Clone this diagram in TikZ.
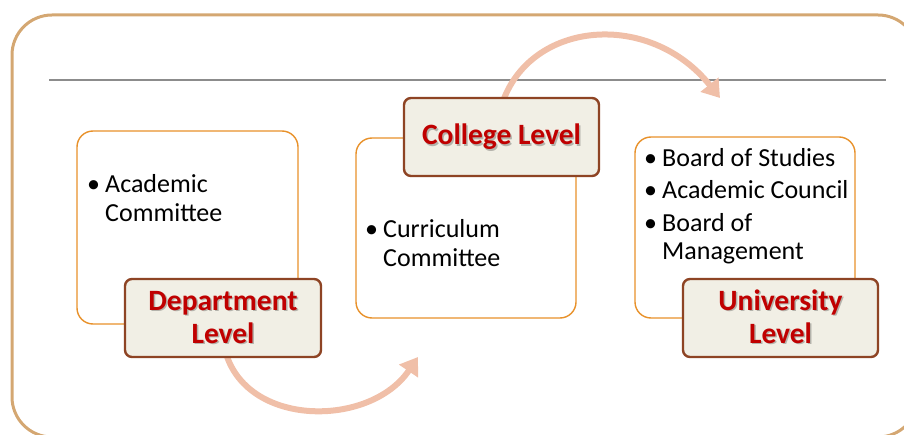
\documentclass[tikz,border=0pt]{standalone}
\usepackage{fontspec}
\setmainfont{Carlito}
\usetikzlibrary{arrows.meta}
\definecolor{frametan}{HTML}{D4A772}
\definecolor{boxorange}{HTML}{E8912A}
\definecolor{labelbrown}{HTML}{8E4424}
\definecolor{labelfill}{HTML}{F1EFE5}
\definecolor{labelred}{HTML}{C00000}
\definecolor{arrowpink}{HTML}{F0BFA8}
\definecolor{rulegray}{HTML}{8C8C8C}
\tikzset{
  contentbox/.style={draw=boxorange, line width=1.4pt, rounded corners=16pt},
  labelbox/.style={draw=labelbrown, line width=2.4pt, fill=labelfill, rounded corners=7pt},
  itemtext/.style={anchor=base west, inner sep=0pt, font=\fontsize{26}{30}\selectfont},
  bullettext/.style={anchor=base west, inner sep=0pt, font=\fontsize{26}{30}\selectfont},
  lbltext/.style={anchor=base, inner sep=0pt, text=labelred, font=\fontsize{29.5}{33}\selectfont\bfseries},
  lblshadow/.style={anchor=base, inner sep=0pt, text=black, opacity=0.25, font=\fontsize{29.5}{33}\selectfont\bfseries},
  flowarrow/.style={draw=arrowpink, line width=6pt, -{Triangle[length=17pt,width=22pt]}},
}
\begin{document}
\begin{tikzpicture}[x=1pt,y=-1pt]
\useasboundingbox (0,0) rectangle (904,435);
\begin{scope}
\clip (0,0) rectangle (904,435);
\draw[frametan, line width=3pt, rounded corners=40pt] (12,15) rectangle (918,437);
\end{scope}
\draw[rulegray, line width=1.4pt] (49,80) -- (886,80);

% content boxes
\draw[contentbox, fill=white] (77,131) rectangle (298,324);
\draw[contentbox, fill=white] (356,138) rectangle (576,318);
\draw[contentbox, fill=white] (635,137) rectangle (855,318);

% arrow anchor coordinates
\coordinate (a1s) at (225,350);
\coordinate (a1e) at (418,357);
\coordinate (a2s) at (502,104);
\coordinate (a2e) at (720,98);
\draw[flowarrow] (a1s) .. controls (245,428) and (370,428) .. (a1e);
\draw[flowarrow] (a2s) .. controls (530,20) and (650,10) .. (a2e);

% label boxes
\node[labelbox, minimum width=196pt, minimum height=78pt, inner sep=0pt] (dept) at (223,318) {};
\node[labelbox, minimum width=195pt, minimum height=78pt, inner sep=0pt] (coll) at (501.5,137) {};
\node[labelbox, minimum width=195pt, minimum height=78pt, inner sep=0pt] (univ) at (780.5,318) {};

% label texts (shadow + red)
\node[lblshadow] at (224.5,311.5) {Department};
\node[lbltext] (deptt1) at (223,310) {Department};
\node[lblshadow] at (224.5,344.5) {Level};
\node[lbltext] (deptt2) at (223,343) {Level};

\node[lblshadow] at (503,146.5) {College Level};
\node[lbltext] (collt) at (501.5,145) {College Level};

\node[lblshadow] at (782,311.5) {University};
\node[lbltext] (univt1) at (780.5,310) {University};
\node[lblshadow] at (782,344.5) {Level};
\node[lbltext] (univt2) at (780.5,343) {Level};

% box 1 items
\node[bullettext] (b1) at (87,193) {•};
\node[itemtext] (i1a) at (105,193) {Academic};
\node[itemtext] (i1b) at (105,222) {Committee};

% box 2 items
\node[bullettext] (b2) at (365,238) {•};
\node[itemtext] (i2a) at (383,238) {Curriculum};
\node[itemtext] (i2b) at (383,267) {Committee};

% box 3 items
\node[bullettext] (b3a) at (644,167) {•};
\node[itemtext] (i3a) at (662,167) {Board of Studies};
\node[bullettext] (b3b) at (644,199) {•};
\node[itemtext] (i3b) at (662,199) {Academic Council};
\node[bullettext] (b3c) at (644,232) {•};
\node[itemtext] (i3c) at (662,232) {Board of};
\node[itemtext] (i3d) at (662,260) {Management};
\end{tikzpicture}
\end{document}
